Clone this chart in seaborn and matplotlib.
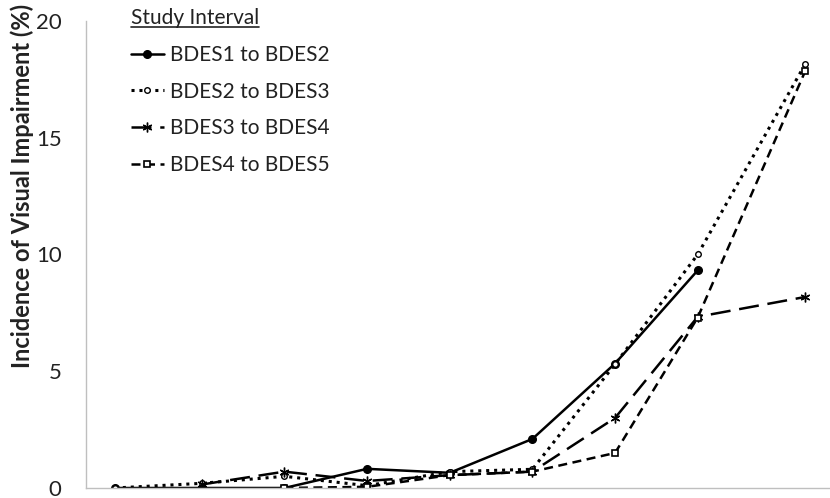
import numpy as np
import pandas as pd
import matplotlib
matplotlib.use("Agg")
import matplotlib.pyplot as plt
from matplotlib.lines import Line2D
from matplotlib.ticker import MultipleLocator, NullFormatter
import seaborn as sns

# DATA
x_pos = [1.75, 7, 12, 17, 22, 27, 32, 37, 43.5]
bdes1 = [0, 0, 0, 0.82, 0.65, 2.1, 5.33, 9.32, np.nan]
bdes2 = [0, 0.2, 0.5, 0.1, 0.7, 0.8, 5.3, 10.0, 18.15]
bdes3 = [np.nan, 0.15, 0.7, 0.3, 0.55, 0.7, 3.0, 7.33, 8.18]
bdes4 = [np.nan, np.nan, 0, 0.05, 0.55, 0.7, 1.5, 7.3, 17.85]
series_names = ["BDES1 to BDES2", "BDES2 to BDES3", "BDES3 to BDES4", "BDES4 to BDES5"]
y_ticks = [0, 5, 10, 15, 20]

sns.set_style("white")
plt.rcParams['font.family'] = ['Lato', 'DejaVu Sans']

# line style per series
styles = {
    "BDES1 to BDES2": dict(linestyle='-', lw=1.8, marker='o', ms=5.5, mfc='black', mew=1),
    "BDES2 to BDES3": dict(linestyle=(0, (1, 1.6)), lw=2.2, marker='o', ms=4, mfc='white', mew=1),
    "BDES3 to BDES4": dict(linestyle=(0, (8, 3.5)), lw=1.8, marker=(6, 2, 0), ms=7, mew=1),
    "BDES4 to BDES5": dict(linestyle=(0, (3.6, 2.2)), lw=1.8, marker='s', ms=4.5, mfc='white', mew=1.2),
}

fig = plt.figure(figsize=(8.3, 4.98), dpi=100)
ax = fig.add_axes([0.1036, 0.0201, 0.8964, 0.9379])

for name, vals in zip(series_names, [bdes1, bdes2, bdes3, bdes4]):
    df = pd.DataFrame({'x': x_pos, 'y': vals}).dropna()
    st = styles[name]
    sns.lineplot(data=df, x='x', y='y', ax=ax, color='black', label=name,
                 linestyle=st['linestyle'], linewidth=st['lw'], marker=st['marker'],
                 markersize=st['ms'], markerfacecolor=st.get('mfc', 'black'),
                 markeredgecolor='black', markeredgewidth=st['mew'])

ax.set_xlim(0, 45)
ax.set_ylim(0, 20)
ax.set_yticks(y_ticks)
ax.yaxis.set_minor_locator(MultipleLocator(1))
ax.xaxis.set_major_locator(MultipleLocator(5))
ax.xaxis.set_minor_locator(MultipleLocator(1))
ax.xaxis.set_major_formatter(NullFormatter())
ax.set_xlabel('')

grey = '#BFBFBF'
for s in ['top', 'right']:
    ax.spines[s].set_visible(False)
for s in ['left', 'bottom']:
    ax.spines[s].set_color(grey)
    ax.spines[s].set_linewidth(1)

ax.tick_params(axis='both', which='both', direction='out', color=grey, width=1)
ax.tick_params(axis='both', which='major', length=8)
ax.tick_params(axis='both', which='minor', length=5)
ax.tick_params(axis='y', which='major', labelsize=16, pad=9.5, labelcolor='#222222')

ax.set_ylabel('Incidence of Visual Impairment (%)', fontsize=17, fontweight='bold', color='#222222')
ax.yaxis.set_label_coords(-0.070, 0.646)

leg = ax.legend(loc='upper left', bbox_to_anchor=(0.049, 1.045), frameon=False,
                title='Study Interval', fontsize=15, title_fontsize=15,
                handlelength=1.6, handletextpad=0.3, labelspacing=0.8,
                alignment='left', borderaxespad=0)
for t in leg.get_texts():
    t.set_color('#222222')
leg.get_title().set_color('#222222')

# underline the legend title
fig.canvas.draw()
bb = leg.get_title().get_window_extent()
inv = fig.transFigure.inverted()
(x0, y0), (x1, _) = inv.transform([(bb.x0, bb.y0 + 1), (bb.x1, bb.y0)])
fig.add_artist(Line2D([x0, x1], [y0, y0], color='#222222', lw=1.2, transform=fig.transFigure))

fig.savefig('out.png', dpi=100)
